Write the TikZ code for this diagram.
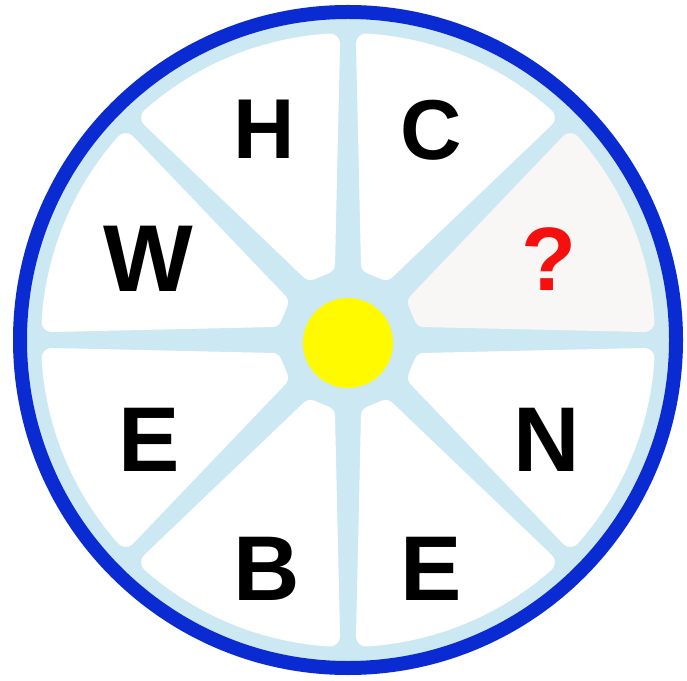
\documentclass[tikz,border=0pt]{standalone}
\usepackage{fontspec}
\setmainfont{Liberation Sans}
\definecolor{ringblue}{RGB}{10,42,210}
\definecolor{spokeblue}{RGB}{204,232,242}
\definecolor{qgray}{RGB}{249,247,246}
\definecolor{hubyellow}{RGB}{255,250,0}
\definecolor{qred}{RGB}{245,15,15}
\tikzset{
  sector/.style={line width=20pt, line join=round},
  letter/.style={inner sep=0pt, text=black, font=\bfseries\fontsize{#1}{#1}\selectfont},
  qmark/.style={inner sep=0pt, text=qred, font=\bfseries\fontsize{90}{90}\selectfont}
}
\begin{document}
\begin{tikzpicture}[x=1pt,y=1pt]
\useasboundingbox (0,0) rectangle (687,680);
\fill[white] (0,0) rectangle (687,680);
\begin{scope}[shift={(348,340)}]
  % light blue base and blue ring
  \fill[spokeblue] (0,0) circle[radius=321];
  \draw[ringblue, line width=14pt] (0,0) circle[radius=328];
  % sectors (shrunk shape, stroked with round joins to get rounded corners)
  \foreach \k in {0,...,7}{
    \pgfmathsetmacro{\a}{45*\k}
    \pgfmathsetmacro{\b}{45*\k+45}
    \ifnum\k=0 \def\sc{qgray}\else\def\sc{white}\fi
    \filldraw[sector, fill=\sc, draw=\sc]
      (\a+16.8:79.4) -- (\a+3.47:297)
      arc[start angle=\a+3.47, end angle=\b-3.47, radius=297]
      -- (\b-16.8:79.4) -- cycle;
  }
  % hub
  \fill[hubyellow] (0,-3) circle[radius=45];
\end{scope}
% letters
\node[letter=85] (h) at (264.5,550.5) {H};
\node[letter=85] (c) at (431,550) {C};
\node[letter=95] (w) at (148.5,421) {W};
\node[qmark] (q) at (548.5,420.5) {?};
\node[letter=92] (e1) at (149,240) {E};
\node[letter=92] (n) at (546.5,240) {N};
\node[letter=92] (b) at (266.5,111.5) {B};
\node[letter=92] (e2) at (431,111.5) {E};
\end{tikzpicture}
\end{document}
